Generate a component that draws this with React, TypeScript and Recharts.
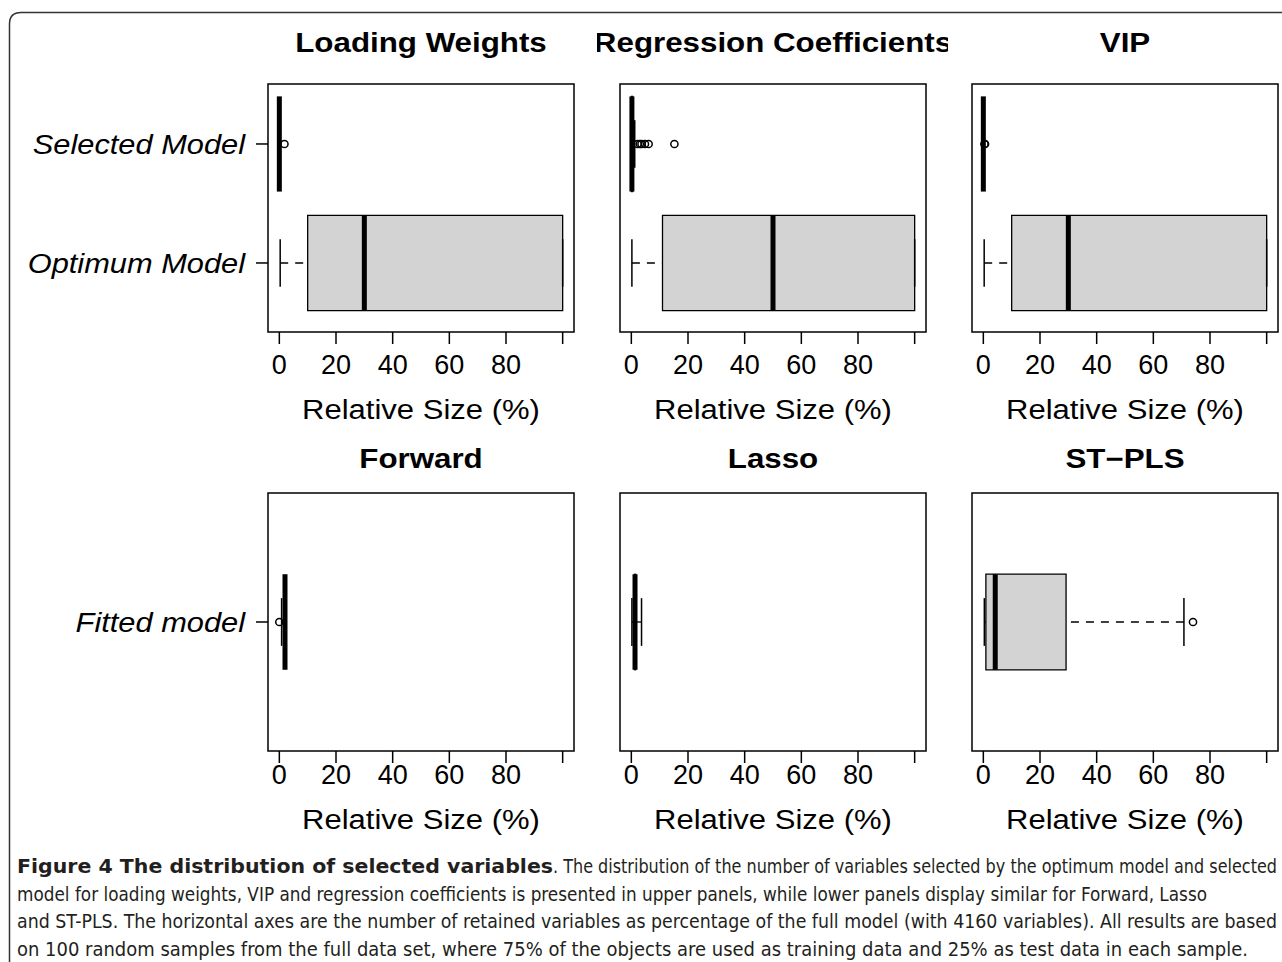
import React from "react";
import {
  ComposedChart,
  ReferenceArea,
  ReferenceLine,
  Scatter,
  XAxis,
  YAxis,
} from "recharts";

const FONT = "'Liberation Sans', Arial, Helvetica, sans-serif";
const CAPTION_FONT =
  "'Liberation Sans Narrow', 'DejaVu Sans Condensed', 'Liberation Sans', sans-serif";

// axis ticks (% of the full model) and the category names per row
const X_TICKS = [0, 20, 40, 60, 80, 100];
const UPPER_LABELS = ["Optimum Model", "Selected Model"]; // y = 1, 2
const LOWER_LABELS = ["Fitted model"]; // y = 1
const TITLES = [
  "Loading Weights",
  "Regression Coefficients",
  "VIP",
  "Forward",
  "Lasso",
  "ST\u2212PLS",
];

// five-number summaries: [low whisker, Q1, median, Q3, high whisker]
const LW_OPTIMUM = [0.3, 10, 30, 100, 100];
const LW_OPTIMUM_OUT: number[] = [];
const LW_SELECTED = [0, 0, 0, 0, 0];
const LW_SELECTED_OUT = [1.8];

const RC_OPTIMUM = [0.2, 11, 50, 100, 100];
const RC_OPTIMUM_OUT: number[] = [];
const RC_SELECTED = [0, 0.1, 0.2, 0.4, 1.2];
const RC_SELECTED_OUT = [2.2, 3.0, 3.6, 4.8, 6.1, 15.2];

const VIP_OPTIMUM = [0.3, 10, 30, 100, 100];
const VIP_OPTIMUM_OUT: number[] = [];
const VIP_SELECTED = [0, 0, 0, 0, 0.2];
const VIP_SELECTED_OUT = [0.4, 0.6];

const FWD_FITTED = [0.8, 2, 2, 2, 2];
const FWD_FITTED_OUT = [0];

const LASSO_FITTED = [0.2, 1.2, 1.3, 1.5, 3.6];
const LASSO_FITTED_OUT: number[] = [];

const STPLS_FITTED = [0.35, 0.9, 4.2, 29.2, 70.8];
const STPLS_FITTED_OUT = [74];

const CAPTION_BOLD = "Figure 4 The distribution of selected variables";
const CAPTION_LINES = [
  ". The distribution of the number of variables selected by the optimum model and selected",
  "model for loading weights, VIP and regression coefficients is presented in upper panels, while lower panels display similar for Forward, Lasso",
  "and ST-PLS. The horizontal axes are the number of retained variables as percentage of the full model (with 4160 variables). All results are based",
  "on 100 random samples from the full data set, where 75% of the objects are used as training data and 25% as test data in each sample.",
];
// caption line layout: [x, baseline, stretched length, font size]
const CAPTION_POS = [
  [553, 873, 724, 14.5],
  [17, 900.5, 1190, 18],
  [17, 928, 1260, 18],
  [17, 955.5, 1231, 18],
];
const CAPTION_HEIGHT = 18 * 1.12;

// layout (page pixels)
const FRAME_LEFT = [268, 620, 972];
const FRAME_W = 306;
const FRAME_TOP = [84, 493];
const FRAME_H = [248, 258];
const Y_DOMAIN = [
  [0.42, 2.504],
  [0.46, 1.54],
];
const BOX_HALF = [0.4, 0.2];
const X_TICK_MARGIN = [11, 2];
const TITLE_BASE = [52, 468];
const XLABEL_BASE = [419, 829];

type Box = { pos: number; stats: number[]; outliers: number[] };
type Panel = { title: string; col: number; row: number; boxes: Box[] };

const PANELS: Panel[] = [
  {
    title: TITLES[0],
    col: 0,
    row: 0,
    boxes: [
      { pos: 1, stats: LW_OPTIMUM, outliers: LW_OPTIMUM_OUT },
      { pos: 2, stats: LW_SELECTED, outliers: LW_SELECTED_OUT },
    ],
  },
  {
    title: TITLES[1],
    col: 1,
    row: 0,
    boxes: [
      { pos: 1, stats: RC_OPTIMUM, outliers: RC_OPTIMUM_OUT },
      { pos: 2, stats: RC_SELECTED, outliers: RC_SELECTED_OUT },
    ],
  },
  {
    title: TITLES[2],
    col: 2,
    row: 0,
    boxes: [
      { pos: 1, stats: VIP_OPTIMUM, outliers: VIP_OPTIMUM_OUT },
      { pos: 2, stats: VIP_SELECTED, outliers: VIP_SELECTED_OUT },
    ],
  },
  {
    title: TITLES[3],
    col: 0,
    row: 1,
    boxes: [{ pos: 1, stats: FWD_FITTED, outliers: FWD_FITTED_OUT }],
  },
  {
    title: TITLES[4],
    col: 1,
    row: 1,
    boxes: [{ pos: 1, stats: LASSO_FITTED, outliers: LASSO_FITTED_OUT }],
  },
  {
    title: TITLES[5],
    col: 2,
    row: 1,
    boxes: [{ pos: 1, stats: STPLS_FITTED, outliers: STPLS_FITTED_OUT }],
  },
];

function CategoryTick(props: any) {
  const { x, y, payload, labels } = props;
  return (
    <g transform={`translate(${x},${y}) scale(1.1,1)`}>
      <text
        textAnchor="end"
        dominantBaseline="central"
        fontStyle="italic"
        fontSize={28}
        fontFamily={FONT}
        fill="#000"
      >
        {labels[payload.value - 1]}
      </text>
    </g>
  );
}

const Outlier = (props: any) => (
  <circle
    cx={props.cx}
    cy={props.cy}
    r={3.6}
    fill="none"
    stroke="#000"
    strokeWidth={1.5}
  />
);

function BoxPanel({ p }: { p: Panel }) {
  const { row, col } = p;
  const yw = col === 0 ? 268 : 60;
  const [lo, hi] = Y_DOMAIN[row];
  const half = BOX_HALF[row];
  const cap = half / 2;
  const labels = row === 0 ? UPPER_LABELS : LOWER_LABELS;
  const positions = labels.map((_, i) => i + 1);
  const outlierData = p.boxes.flatMap((b) =>
    b.outliers.map((v) => ({ x: v, y: b.pos }))
  );

  return (
    <div
      style={{
        position: "absolute",
        left: FRAME_LEFT[col] - yw,
        top: FRAME_TOP[row] - 10,
      }}
    >
      <ComposedChart
        width={yw + FRAME_W + 10}
        height={FRAME_H[row] + 60}
        margin={{ top: 10, right: 10, bottom: 0, left: 0 }}
      >
        <XAxis
          type="number"
          dataKey="x"
          domain={[-4, 104]}
          allowDataOverflow
          ticks={X_TICKS}
          interval={0}
          tickFormatter={(v) => (v === 100 ? "" : String(v))}
          tickSize={12}
          tickMargin={X_TICK_MARGIN[row]}
          axisLine={false}
          tickLine={{ stroke: "#000", strokeWidth: 1.5 }}
          tick={{ fill: "#000", fontSize: 27, fontFamily: FONT }}
          height={50}
        />
        <YAxis
          type="number"
          dataKey="y"
          domain={[lo, hi]}
          allowDataOverflow
          ticks={positions}
          interval={0}
          width={yw}
          tickSize={12}
          tickMargin={11}
          axisLine={false}
          tickLine={{ stroke: "#000", strokeWidth: 1.5 }}
          tick={
            col === 0
              ? (props: any) => <CategoryTick {...props} labels={labels} />
              : false
          }
        />
        <ReferenceArea
          x1={-4}
          x2={104}
          y1={lo}
          y2={hi}
          fill="none"
          stroke="#000"
          strokeWidth={1.5}
          ifOverflow="visible"
        />
        {p.boxes.map((b) => {
          const s = b.stats;
          return (
            <React.Fragment key={b.pos}>
              <ReferenceArea
                x1={s[1]}
                x2={s[3]}
                y1={b.pos - half}
                y2={b.pos + half}
                fill="#d3d3d3"
                fillOpacity={1}
                stroke="#000"
                strokeWidth={1.3}
                ifOverflow="visible"
              />
              <ReferenceLine
                segment={[
                  { x: s[0], y: b.pos },
                  { x: s[1], y: b.pos },
                ]}
                stroke="#000"
                strokeWidth={1.3}
                strokeDasharray="8 7"
                ifOverflow="visible"
              />
              <ReferenceLine
                segment={[
                  { x: s[4], y: b.pos },
                  { x: s[3], y: b.pos },
                ]}
                stroke="#000"
                strokeWidth={1.3}
                strokeDasharray="8 7"
                ifOverflow="visible"
              />
              <ReferenceLine
                segment={[
                  { x: s[0], y: b.pos - cap },
                  { x: s[0], y: b.pos + cap },
                ]}
                stroke="#000"
                strokeWidth={1.5}
                ifOverflow="visible"
              />
              <ReferenceLine
                segment={[
                  { x: s[4], y: b.pos - cap },
                  { x: s[4], y: b.pos + cap },
                ]}
                stroke="#000"
                strokeWidth={1.5}
                ifOverflow="visible"
              />
              <ReferenceLine
                segment={[
                  { x: s[2], y: b.pos - half },
                  { x: s[2], y: b.pos + half },
                ]}
                stroke="#000"
                strokeWidth={5}
                ifOverflow="visible"
              />
            </React.Fragment>
          );
        })}
        <Scatter data={outlierData} isAnimationActive={false} shape={Outlier} />
      </ComposedChart>
    </div>
  );
}

export default function App() {
  return (
    <div
      style={{
        position: "absolute",
        left: 0,
        top: 0,
        width: 1282,
        height: 962,
        background: "#fff",
        overflow: "hidden",
        fontFamily: FONT,
      }}
    >
      {PANELS.map((p) => (
        <BoxPanel key={p.title} p={p} />
      ))}
      <svg
        width={1282}
        height={962}
        style={{ position: "absolute", left: 0, top: 0, pointerEvents: "none" }}
      >
        <defs>
          <clipPath id="rcClip">
            <rect x={597} y={0} width={351} height={90} />
          </clipPath>
        </defs>
        <path
          d="M9.5 962 V24 Q9.5 12.5 21 12.5 H1282"
          fill="none"
          stroke="#333"
          strokeWidth={1.5}
        />
        {PANELS.map((p) => {
          const cx = FRAME_LEFT[p.col] + FRAME_W / 2;
          return (
            <g key={p.title}>
              <g clipPath={p.col === 1 && p.row === 0 ? "url(#rcClip)" : undefined}>
                <g transform={`translate(${cx},${TITLE_BASE[p.row]}) scale(1.16,1)`}>
                  <text
                    textAnchor="middle"
                    fontWeight="bold"
                    fontSize={27}
                    fontFamily={FONT}
                    fill="#000"
                  >
                    {p.title}
                  </text>
                </g>
              </g>
              <g transform={`translate(${cx},${XLABEL_BASE[p.row]}) scale(1.108,1)`}>
                <text textAnchor="middle" fontSize={28} fontFamily={FONT} fill="#000">
                  Relative Size (%)
                </text>
              </g>
            </g>
          );
        })}
        <g transform="translate(17,873) scale(1,1.12)">
          <text
            x={0}
            y={0}
            fontSize={18}
            fontWeight="bold"
            fontFamily={CAPTION_FONT}
            fill="#231f20"
            textLength={536}
            lengthAdjust="spacingAndGlyphs"
          >
            {CAPTION_BOLD}
          </text>
        </g>
        {CAPTION_LINES.map((line, i) => {
          const [x, y, len, fs] = CAPTION_POS[i];
          return (
            <g key={i} transform={`translate(${x},${y}) scale(1,${CAPTION_HEIGHT / fs})`}>
              <text
                x={0}
                y={0}
                fontSize={fs}
                fontFamily={CAPTION_FONT}
                fill="#231f20"
                textLength={len}
                lengthAdjust="spacingAndGlyphs"
              >
                {line}
              </text>
            </g>
          );
        })}
      </svg>
    </div>
  );
}
